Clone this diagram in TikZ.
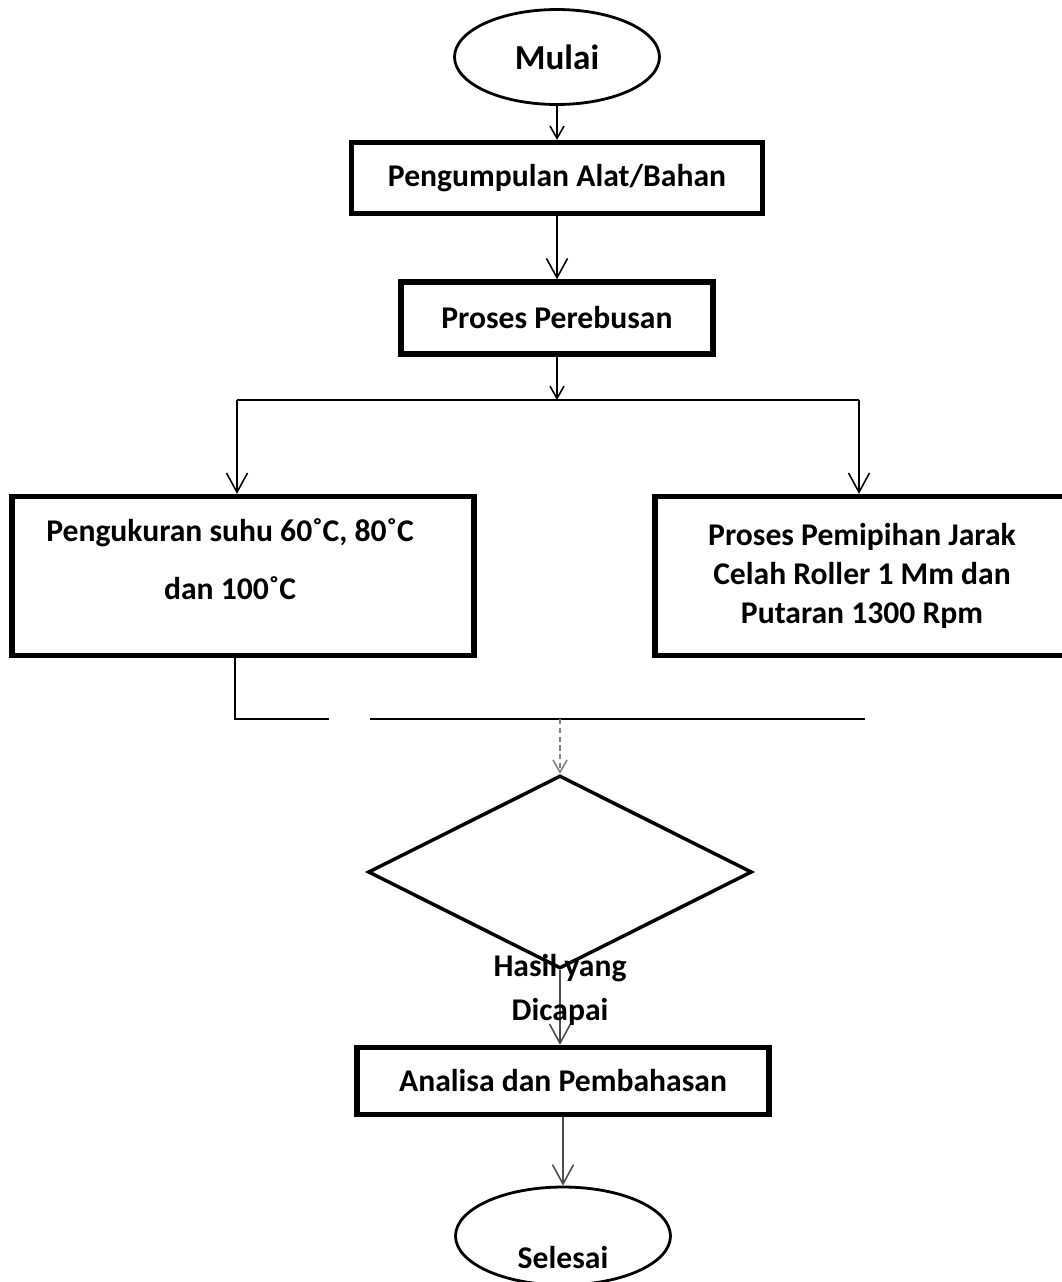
\documentclass[tikz,border=0pt]{standalone}
\usepackage{fontspec}
\setmainfont{Carlito}
\usetikzlibrary{shapes.geometric,arrows.meta}
\begin{document}
\begin{tikzpicture}[x=0.02cm, y=-0.02cm,
        kotak/.style={draw, rectangle, line width=3pt, inner sep=0pt},
        oval/.style={draw, ellipse, line width=1.6pt, inner sep=0pt},
        tulisan/.style={font=\fontsize{18}{21}\selectfont\bfseries, align=center},
        panah/.style={line width=0.9pt, -{Straight Barb[length=11pt,width=12pt]}},
        panahkecil/.style={line width=0.9pt, -{Straight Barb[length=7pt,width=8pt]}},
        garis/.style={line width=1.2pt}]
    \useasboundingbox (0,0) rectangle (1062,1282);
    \node[oval, tulisan, font=\fontsize{20}{24}\selectfont\bfseries,
        minimum width=4.1cm, minimum height=1.9cm] (mulai) at (557,57) {Mulai};
    \node[kotak, tulisan, minimum width=8.22cm, minimum height=1.42cm] (alat) at (557,178) {Pengumpulan Alat/Bahan};
    \node[kotak, tulisan, minimum width=6.24cm, minimum height=1.44cm] (rebus) at (557,318) {Proses Perebusan};
    \node[kotak, minimum width=9.24cm, minimum height=3.18cm] (ukur) at (243,576) {};
    \node[tulisan, font=\fontsize{18}{33}\selectfont\bfseries] (ukurtxt) at (230,559)
        {Pengukuran suhu 60˚C, 80˚C\\dan 100˚C};
    \node[kotak, tulisan, font=\fontsize{18}{22}\selectfont\bfseries,
        minimum width=8.28cm, minimum height=3.18cm] (pipih) at (862,576)
        {Proses Pemipihan Jarak\\Celah Roller 1 Mm dan\\Putaran 1300 Rpm};
    \node[draw, diamond, line width=2pt, inner sep=0pt,
        minimum width=7.68cm, minimum height=3.86cm] (hasil) at (560,872) {};
    \node[kotak, tulisan, minimum width=8.24cm, minimum height=1.34cm] (analisa) at (563,1081) {Analisa dan Pembahasan};
    \node[oval, minimum width=4.3cm, minimum height=1.96cm] (selesai) at (563,1236) {};

    \coordinate (pecah) at (557,400);
    \coordinate (pecahkiri) at (237,400);
    \coordinate (pecahkanan) at (859,400);
    \coordinate (gabungkiri) at (235,719);
    \coordinate (putus) at (329,719);
    \coordinate (sambung) at (370,719);
    \coordinate (gabungkanan) at (865,719);
    \coordinate (gabung) at (560,719);

    \draw[panahkecil] (mulai.south) -- (alat.north);
    \draw[panah] (alat.south) -- (rebus.north);
    \draw[panahkecil] (rebus.south) -- (pecah);
    \draw[garis] (pecahkiri) -- (pecahkanan);
    \draw[panah] (pecahkiri) -- (pecahkiri |- ukur.north);
    \draw[panah] (pecahkanan) -- (pecahkanan |- pipih.north);
    \draw[garis] (gabungkiri |- ukur.south) -- (gabungkiri) -- (putus);
    \draw[garis] (sambung) -- (gabungkanan);
    \draw[panahkecil, gray, densely dashed] (gabung) -- (hasil.north);
    \draw[panah, gray!60!black] (hasil.south) -- (hasil.south |- analisa.north);
    \draw[panah, gray!60!black] (analisa.south) -- (selesai.north);

    \node[tulisan, font=\fontsize{18}{25}\selectfont\bfseries] (hasiltxt) at (560,990) {Hasil yang\\Dicapai};
    \node[tulisan] (selesaitxt) at (563,1258) {Selesai};
\end{tikzpicture}
\end{document}
